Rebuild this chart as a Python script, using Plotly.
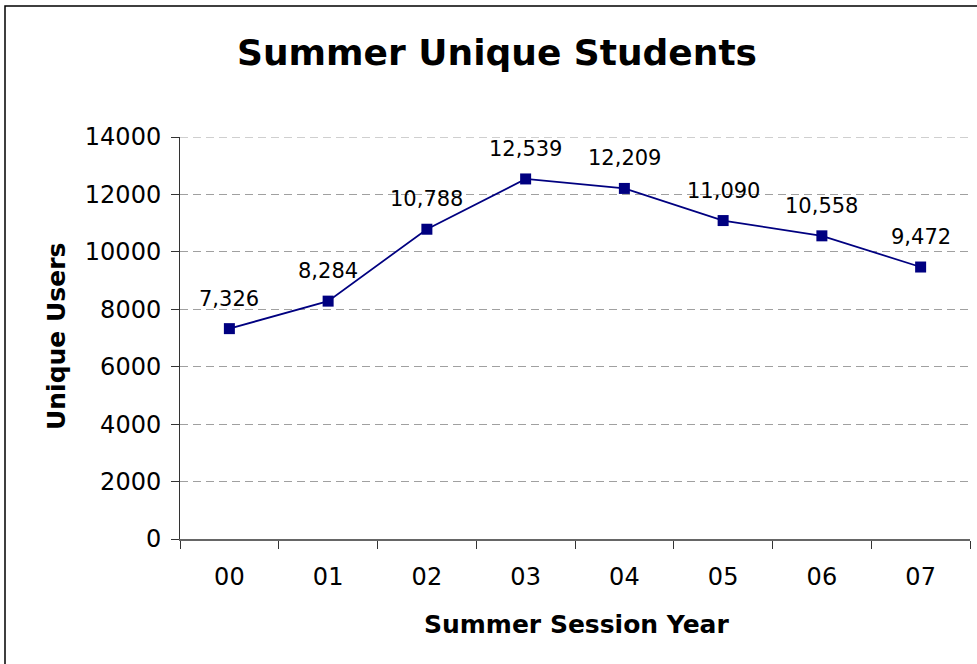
import plotly.graph_objects as go

years = ["00", "01", "02", "03", "04", "05", "06", "07"]
unique_users = [7326, 8284, 10788, 12539, 12209, 11090, 10558, 9472]
y_ticks = [0, 2000, 4000, 6000, 8000, 10000, 12000, 14000]

title_text = "Summer Unique Students"
x_title = "Summer Session Year"
y_title = "Unique Users"

W, H = 977, 664
L, R, T, B = 180, 7, 137, 125
pw, ph = W - L - R, H - T - B

FONT = "DejaVu Sans"

fig = go.Figure()
fig.add_trace(go.Scatter(
    x=years, y=unique_users,
    mode="lines+markers",
    line=dict(color="#000080", width=1.75),
    marker=dict(symbol="square", size=11, color="#000080"),
    cliponaxis=False,
    showlegend=False,
    hoverinfo="skip",
))

def px_x(p):
    return (p - L) / pw

def px_y(p):
    return (H - B - p) / ph

annotations = [
    dict(text=title_text, xref="paper", yref="paper",
         x=px_x(497), y=px_y(52), xanchor="center", yanchor="middle",
         showarrow=False, font=dict(family=FONT, size=36, color="black", weight="bold")),
    dict(text=x_title, xref="paper", yref="paper",
         x=px_x(576), y=px_y(624), xanchor="center", yanchor="middle",
         showarrow=False, font=dict(family=FONT, size=25, color="black", weight="bold")),
    dict(text=y_title, xref="paper", yref="paper",
         x=px_x(56), y=px_y(337), xanchor="center", yanchor="middle",
         textangle=-90,
         showarrow=False, font=dict(family=FONT, size=25, color="black", weight="bold")),
]
for yr, v in zip(years, unique_users):
    annotations.append(dict(
        x=yr, y=v, xref="x", yref="y", text=f"{v:,}", showarrow=False,
        yshift=30, xanchor="center", yanchor="middle",
        font=dict(family=FONT, size=21, color="black"),
    ))

fig.update_layout(
    width=W, height=H,
    margin=dict(l=L, r=R, t=T, b=B),
    paper_bgcolor="white", plot_bgcolor="white",
    font=dict(family=FONT, color="black"),
    showlegend=False,
    hovermode=False,
    xaxis=dict(
        type="category", range=[-0.5, 7.5],
        showgrid=False, showline=True, linecolor="#666666", linewidth=1.5,
        ticks="outside", tickson="boundaries", ticklen=8, tickcolor="#333333",
        tickfont=dict(family=FONT, size=24, color="black"),
        ticklabelstandoff=16,
        zeroline=False,
    ),
    yaxis=dict(
        range=[0, 14000], tickvals=y_ticks, tickformat="d",
        showgrid=True, gridcolor="#a0a0a0", griddash="8px,5px", gridwidth=1,
        showline=True, linecolor="#333333", linewidth=1,
        ticks="outside", ticklen=8, tickcolor="#333333",
        tickfont=dict(family=FONT, size=24, color="black"),
        ticklabelstandoff=5,
        zeroline=False,
    ),
    shapes=[
        dict(type="rect", xref="paper", yref="paper",
             x0=px_x(5), x1=px_x(1000), y0=px_y(700), y1=px_y(6),
             line=dict(color="black", width=1.5), fillcolor="rgba(0,0,0,0)",
             layer="below"),
        dict(type="line", xref="paper", yref="y",
             x0=0, x1=1, y0=y_ticks[-1], y1=y_ticks[-1],
             line=dict(color="#a0a0a0", width=1, dash="8px,5px"),
             layer="below"),
    ],
    annotations=annotations,
)

fig.write_html("out.html", config={"displayModeBar": False, "staticPlot": True},
               post_script="document.body.style.margin='0';document.body.style.overflow='hidden';")
